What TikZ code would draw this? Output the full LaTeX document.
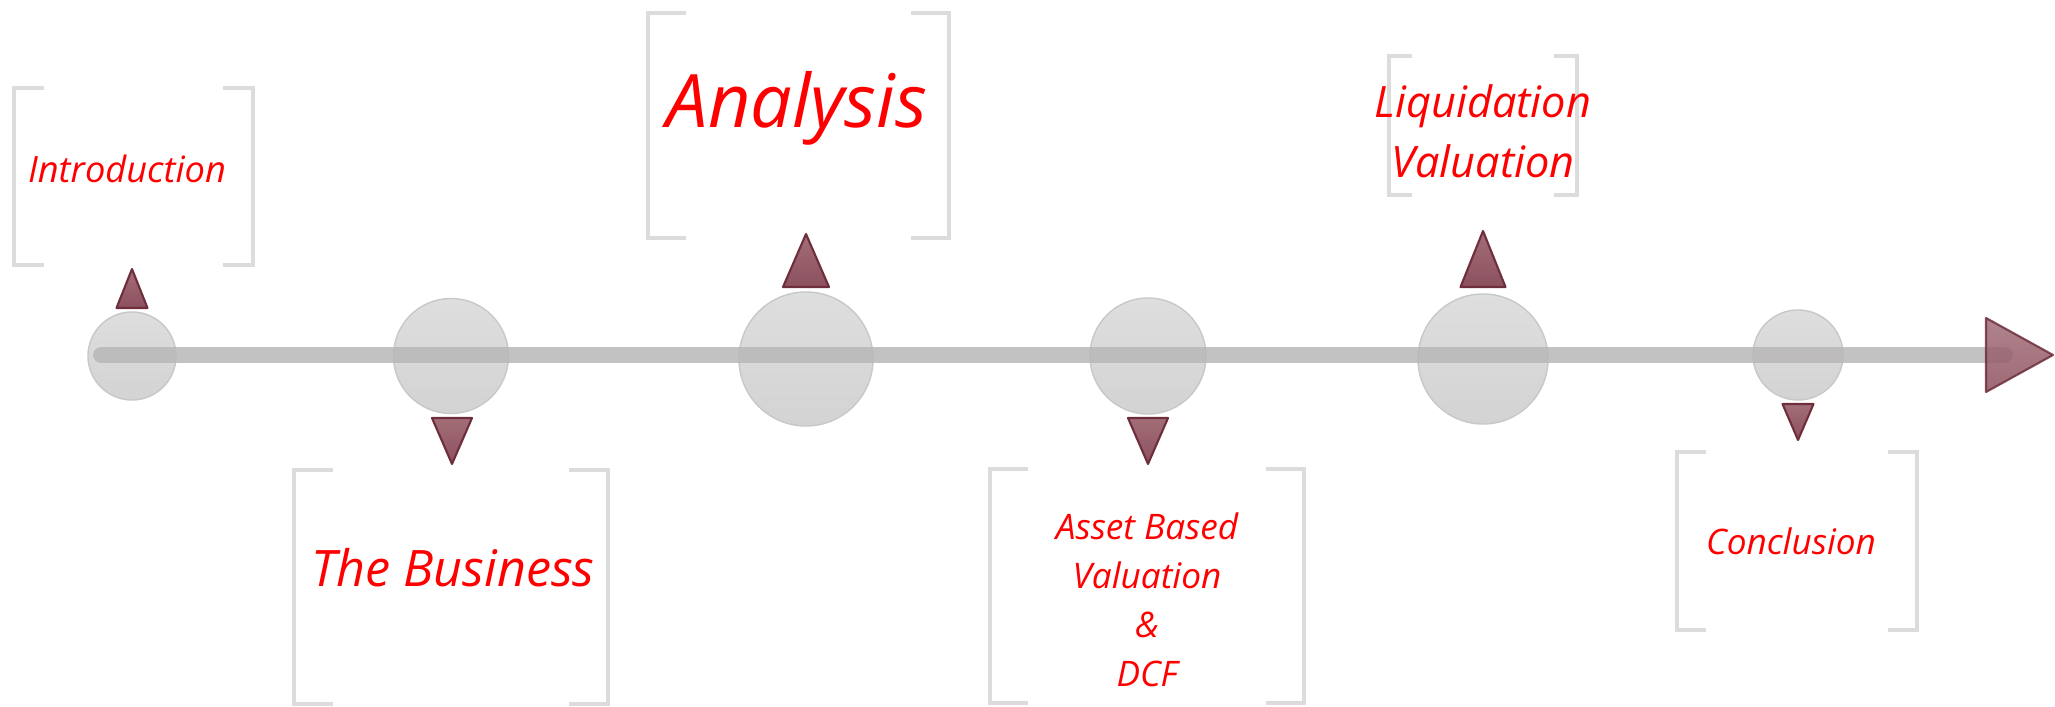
\documentclass[tikz,border=0pt]{standalone}
\usepackage{fontspec}
\setsansfont{Open Sans}
\usetikzlibrary{positioning}
\definecolor{stoptop}{HTML}{DEDEDE}
\definecolor{stopbot}{HTML}{D3D3D3}
\definecolor{stopedge}{HTML}{C8C8C8}
\definecolor{trackgray}{HTML}{B9B7B8}
\definecolor{pintop}{HTML}{A36E78}
\definecolor{pinbot}{HTML}{8C505E}
\definecolor{pinedge}{HTML}{6E2E3C}
\definecolor{brkgray}{HTML}{DCDCDC}
\tikzstyle{stop} = [circle, draw=stopedge, line width=0.4pt, top color=stoptop, bottom color=stopbot, inner sep=0pt]
\tikzstyle{track} = [draw=trackgray, line width=4.5pt, line cap=round, opacity=0.85]
\tikzstyle{pin} = [draw=pinedge, line width=0.6pt, line join=round, top color=pintop, bottom color=pinbot]
\tikzstyle{brk} = [draw=brkgray, line width=1.3pt]
\tikzstyle{lbl} = [text=red, inner sep=0pt]

\begin{document}
\begin{tikzpicture}[x=0.01cm, y=-0.01cm]
            \useasboundingbox (0,0) rectangle (2055,707);

            % brackets: left/top/right/bottom/serif
            \foreach \l/\t/\r/\b/\s in {14/88/253/265/30, 294/470/608/704/39, 648/13/949/238/38,
                                        990/469/1304/703/38, 1389/56/1577/195/23, 1677/452/1917/630/29}
            {
                \draw[brk] (\l+\s,\t) -| (\l,\b) -- (\l+\s,\b);
                \draw[brk] (\r-\s,\t) -| (\r,\b) -- (\r-\s,\b);
            }

            \node (stop 1) [stop, minimum size=0.88cm] at (132,356) {};
            \node (stop 2) [stop, minimum size=1.15cm] at (451,356) {};
            \node (stop 3) [stop, minimum size=1.34cm] at (806,359) {};
            \node (stop 4) [stop, minimum size=1.16cm] at (1148,356) {};
            \node (stop 5) [stop, minimum size=1.30cm] at (1483,359) {};
            \node (stop 6) [stop, minimum size=0.90cm] at (1798,355) {};

            \coordinate (start) at (101,355);
            \coordinate (end) at (2005,355);
            \coordinate (tip) at (2053,355);
            \draw[track] (start) -- (end);
            \path[pin, opacity=0.85] (1986,318) -- (tip) -- (1986,392) -- cycle;

            % markers: x/base/apex/width
            \foreach \x/\b/\a/\w in {132/308/269/31, 452/418/464/40, 806/287/234/46,
                                     1148/418/464/40, 1483/287/231/45, 1798/404/440/31}
                \path[pin] (\x-\w/2,\b) -- (\x,\a) -- (\x+\w/2,\b) -- cycle;

            \node (label 1) [lbl, anchor=base, font=\sffamily\itshape\fontsize{10.3}{12}\selectfont] at (127,183) {Introduction};
            \node (label 2) [lbl, anchor=base, font=\sffamily\itshape\fontsize{14.3}{17}\selectfont] at (453,587) {The Business};
            \node (label 3) [lbl, anchor=base, font=\sffamily\itshape\fontsize{21}{24}\selectfont] at (797,128) {Analysis};
            \node (label 4) [lbl, align=center, font=\sffamily\itshape\fontsize{10}{13.9}\selectfont] at (1147,600) {Asset Based\\Valuation\\\&\\DCF};
            \node (label 5) [lbl, align=center, font=\sffamily\itshape\fontsize{12.3}{17.1}\selectfont] at (1483,131) {Liquidation\\Valuation};
            \node (label 6) [lbl, anchor=base, font=\sffamily\itshape\fontsize{10}{13}\selectfont] at (1791,555) {Conclusion};
        \end{tikzpicture}
\end{document}
